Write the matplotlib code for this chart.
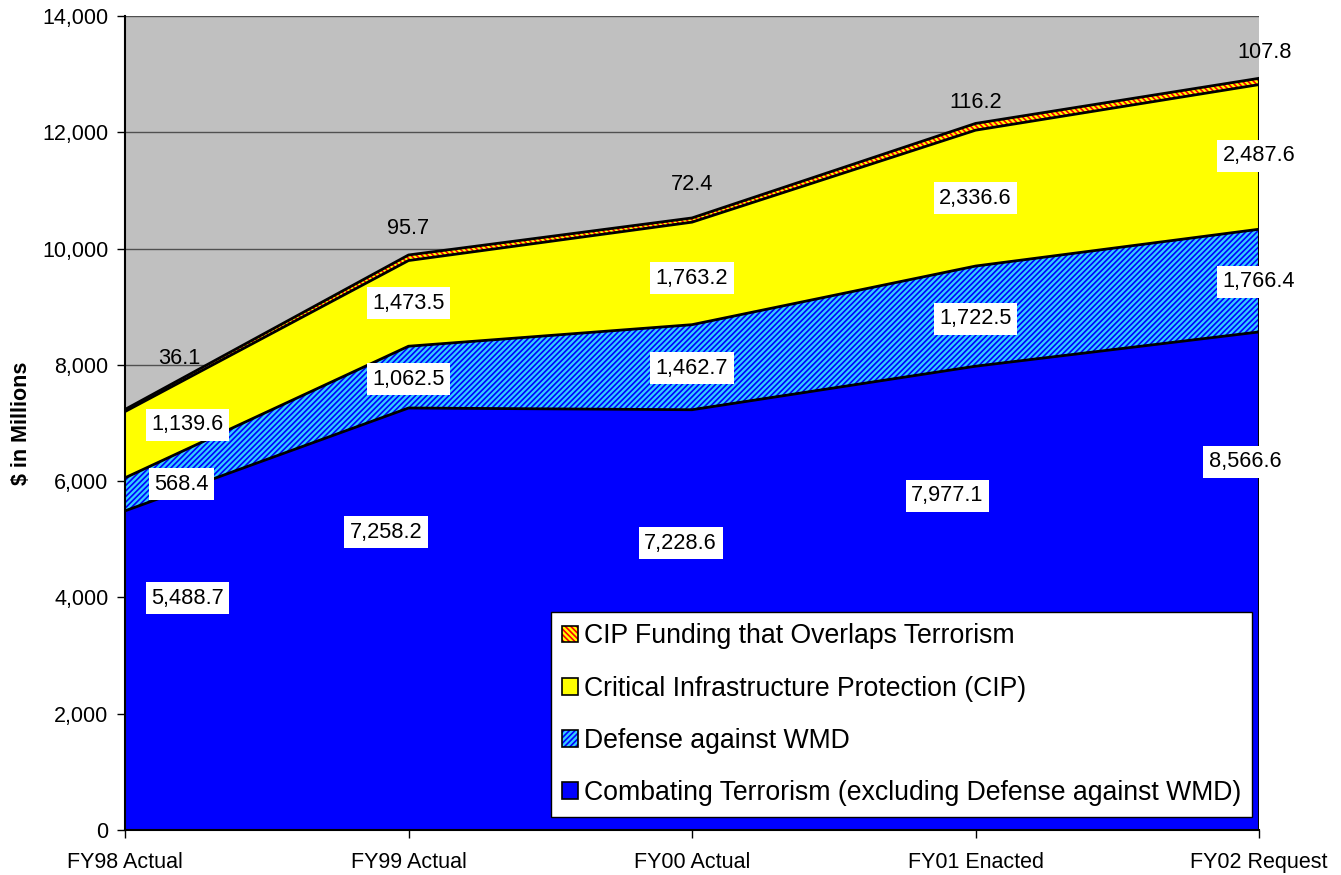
import matplotlib.pyplot as plt
import numpy as np
from matplotlib.patches import Patch
from matplotlib.ticker import FuncFormatter

plt.rcParams['font.family'] = ['Liberation Sans', 'DejaVu Sans']
plt.rcParams['hatch.linewidth'] = 1.2

# data
years = ['FY98 Actual', 'FY99 Actual', 'FY00 Actual', 'FY01 Enacted', 'FY02 Request']
combat = [5488.7, 7258.2, 7228.6, 7977.1, 8566.6]
wmd = [568.4, 1062.5, 1462.7, 1722.5, 1766.4]
cip = [1139.6, 1473.5, 1763.2, 2336.6, 2487.6]
overlap = [36.1, 95.7, 72.4, 116.2, 107.8]

series = [combat, wmd, cip, overlap]
names = ['Combating Terrorism (excluding Defense against WMD)',
         'Defense against WMD',
         'Critical Infrastructure Protection (CIP)',
         'CIP Funding that Overlaps Terrorism']
faces = ['#0000FF', '#33CCFF', '#FFFF00', '#FFFF00']
hatchcol = [None, '#0000FF', None, '#FF0000']
hatches = [None, '//////', None, '\\\\\\\\\\\\']

# label positions (x in category units, y in data units), per series per year
lab_pos = [
    [(0.22, 3990), (0.92, 5125), (1.96, 4936), (2.90, 5745), (3.95, 6330)],
    [(0.20, 5951), (1.0, 7757), (2.0, 7946), (3.0, 8789), (4.0, 9426)],
    [(0.22, 6966), (1.0, 9064), (2.0, 9494), (3.0, 10870), (4.0, 11593)],
    [(0.19, 8118), (1.0, 10337), (2.0, 11094), (3.0, 12504), (4.02, 13364)],
]

x = np.arange(len(years))
fig = plt.figure(figsize=(13.41, 8.75), dpi=100)
ax = fig.add_axes([0.0932, 0.0514, 0.8457, 0.9303])
ax.set_facecolor('#C0C0C0')

bottom = np.zeros(len(x))
handles = []
for vals, name, fc, hc, h in zip(series, names, faces, hatchcol, hatches):
    top = bottom + np.array(vals)
    if h:
        ax.fill_between(x, bottom, top, facecolor=fc, edgecolor=hc, hatch=h, linewidth=0, zorder=2)
        hd = (Patch(facecolor=fc, edgecolor=hc, hatch=h, linewidth=0),
              Patch(facecolor='none', edgecolor='black', linewidth=1.2))
    else:
        ax.fill_between(x, bottom, top, facecolor=fc, linewidth=0, zorder=2)
        hd = Patch(facecolor=fc, edgecolor='black', linewidth=1.2)
    ax.plot(x, top, color='black', lw=2, zorder=3)
    handles.append(hd)
    bottom = top
ax.plot([x[-1], x[-1]], [0, bottom[-1]], color='black', lw=1.5, zorder=3)

for si, vals in enumerate(series):
    for i, v in enumerate(vals):
        px, py = lab_pos[si][i]
        box = None if si == 3 else dict(facecolor='white', edgecolor='none', pad=4)
        ax.text(px, py, f'{v:,.1f}', ha='center', va='center', fontsize=15.7,
                bbox=box, zorder=5)

ax.set_xlim(0, 4)
ax.set_ylim(0, 14000)
ax.set_yticks(np.arange(0, 14001, 2000))
ax.yaxis.set_major_formatter(FuncFormatter(lambda v, p: f'{v:,.0f}'))
ax.set_xticks(x)
ax.set_xticklabels(years)
ax.tick_params(axis='both', labelsize=15.5, direction='out', length=6, width=1)
ax.tick_params(axis='x', pad=10)
ax.tick_params(axis='y', pad=6)
ax.grid(axis='y', color='#505050', lw=1, zorder=1)
ax.set_axisbelow(True)
for s in ['top', 'right']:
    ax.spines[s].set_visible(False)
ax.spines['left'].set_linewidth(1.5)
ax.spines['bottom'].set_linewidth(1.5)
ax.set_ylabel('$ in Millions', fontsize=15.5, fontweight='bold')
ax.yaxis.set_label_coords(-0.082, 0.5)

leg = ax.legend(handles[::-1], names[::-1], loc='lower right', bbox_to_anchor=(0.9938, 0.016),
                fontsize=19.2, frameon=True, fancybox=False, framealpha=1, facecolor='white',
                handlelength=0.6, handleheight=0.6, handletextpad=0.2, labelspacing=0.98,
                borderpad=0.42, borderaxespad=0)
leg.get_frame().set_edgecolor('black')
leg.get_frame().set_linewidth(1)
leg.set_zorder(6)

fig.savefig('out.png', dpi=100)
